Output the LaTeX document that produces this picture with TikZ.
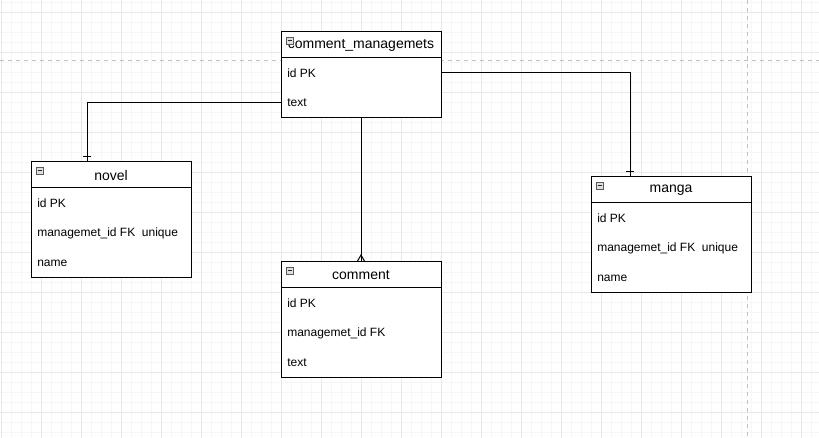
\documentclass[tikz,border=0pt]{standalone}
\usepackage{fontspec}
\setmainfont{Liberation Sans}
\usetikzlibrary{positioning}

\begin{document}
\begin{tikzpicture}[
        x=0.75pt, y=-0.75pt,
        head/.style={draw, fill=white, line width=0.75pt, minimum width=120pt, minimum height=19.5pt, inner sep=0pt, outer sep=0pt, font=\fontsize{10.5}{12}\selectfont},
        body/.style={draw, fill=white, line width=0.75pt, minimum width=120pt, inner sep=0pt, outer sep=0pt},
        field/.style={anchor=west, inner xsep=4.5pt, font=\fontsize{9}{11}\selectfont},
        rel/.style={line width=0.75pt},
        minor/.style={gray!7, line width=0.75pt},
        major/.style={gray!18, line width=0.75pt},
        pagebreak/.style={gray!50, line width=0.75pt, dash pattern=on 3pt off 3pt},
        toggle/.style={draw=gray!70!black, fill=gray!25, line width=0.5pt}
    ]
    \useasboundingbox (0,0) rectangle (819,438);
    \fill[white] (0,0) rectangle (819,438);

    % background grid
    \foreach \x in {1,11,...,811} \draw[minor] (\x,0) -- (\x,438);
    \foreach \y in {3,13,...,433} \draw[minor] (0,\y) -- (819,\y);
    \foreach \x in {1,41,...,801} \draw[major] (\x,0) -- (\x,438);
    \foreach \y in {13,53,...,413} \draw[major] (0,\y) -- (819,\y);
    \draw[pagebreak] (747,0) -- (747,438);
    \draw[pagebreak] (0,61) -- (819,61);

    % tables
    \node[head] (cmHead) at (361,45) {comment\_managemets};
    \node[body, below=0pt of cmHead, minimum height=45pt] (cmBody) {};
    \node[field] (cmId) at (281,73) {id PK};
    \node[field] (cmText) at (281,103) {text};

    \node[head] (novelHead) at (111,175) {novel};
    \node[body, below=0pt of novelHead, minimum height=67.5pt] (novelBody) {};
    \node[field] (novelId) at (31,203) {id PK};
    \node[field] (novelFk) at (31,233) {managemet\_id FK~~unique};
    \node[field] (novelName) at (31,263) {name};

    \node[head] (commentHead) at (361,275) {comment};
    \node[body, below=0pt of commentHead, minimum height=67.5pt] (commentBody) {};
    \node[field] (commentId) at (281,303) {id PK};
    \node[field] (commentFk) at (281,333) {managemet\_id FK};
    \node[field] (commentText) at (281,363) {text};

    \node[head] (mangaHead) at (671,190) {manga};
    \node[body, below=0pt of mangaHead, minimum height=67.5pt] (mangaBody) {};
    \node[field] (mangaId) at (591,218) {id PK};
    \node[field] (mangaFk) at (591,248) {managemet\_id FK~~unique};
    \node[field] (mangaName) at (591,278) {name};

    % collapse boxes
    \foreach \t in {cmHead, novelHead, commentHead, mangaHead} {
        \draw[toggle] ([shift={(5,5)}]\t.north west) rectangle ++(7,7);
        \draw[line width=0.6pt, gray!30!black] ([shift={(6.5,8.5)}]\t.north west) -- ++(4,0);
    }

    % relations
    \coordinate (novelIn) at (87,162);
    \coordinate (mangaIn) at (630,177);
    \draw[rel] (cmText.west) -| (novelIn);
    \draw[rel] ([shift={(-4,-5)}]novelIn) -- ++(8,0);
    \draw[rel] (cmId.west -| cmBody.east) -| (mangaIn);
    \draw[rel] ([shift={(-4,-5)}]mangaIn) -- ++(8,0);
    \draw[rel] (cmBody.south) -- (commentHead.north);
    \draw[rel] ([shift={(-4,0)}]commentHead.north) -- ++(4,-7) -- ++(4,7);
\end{tikzpicture}
\end{document}
